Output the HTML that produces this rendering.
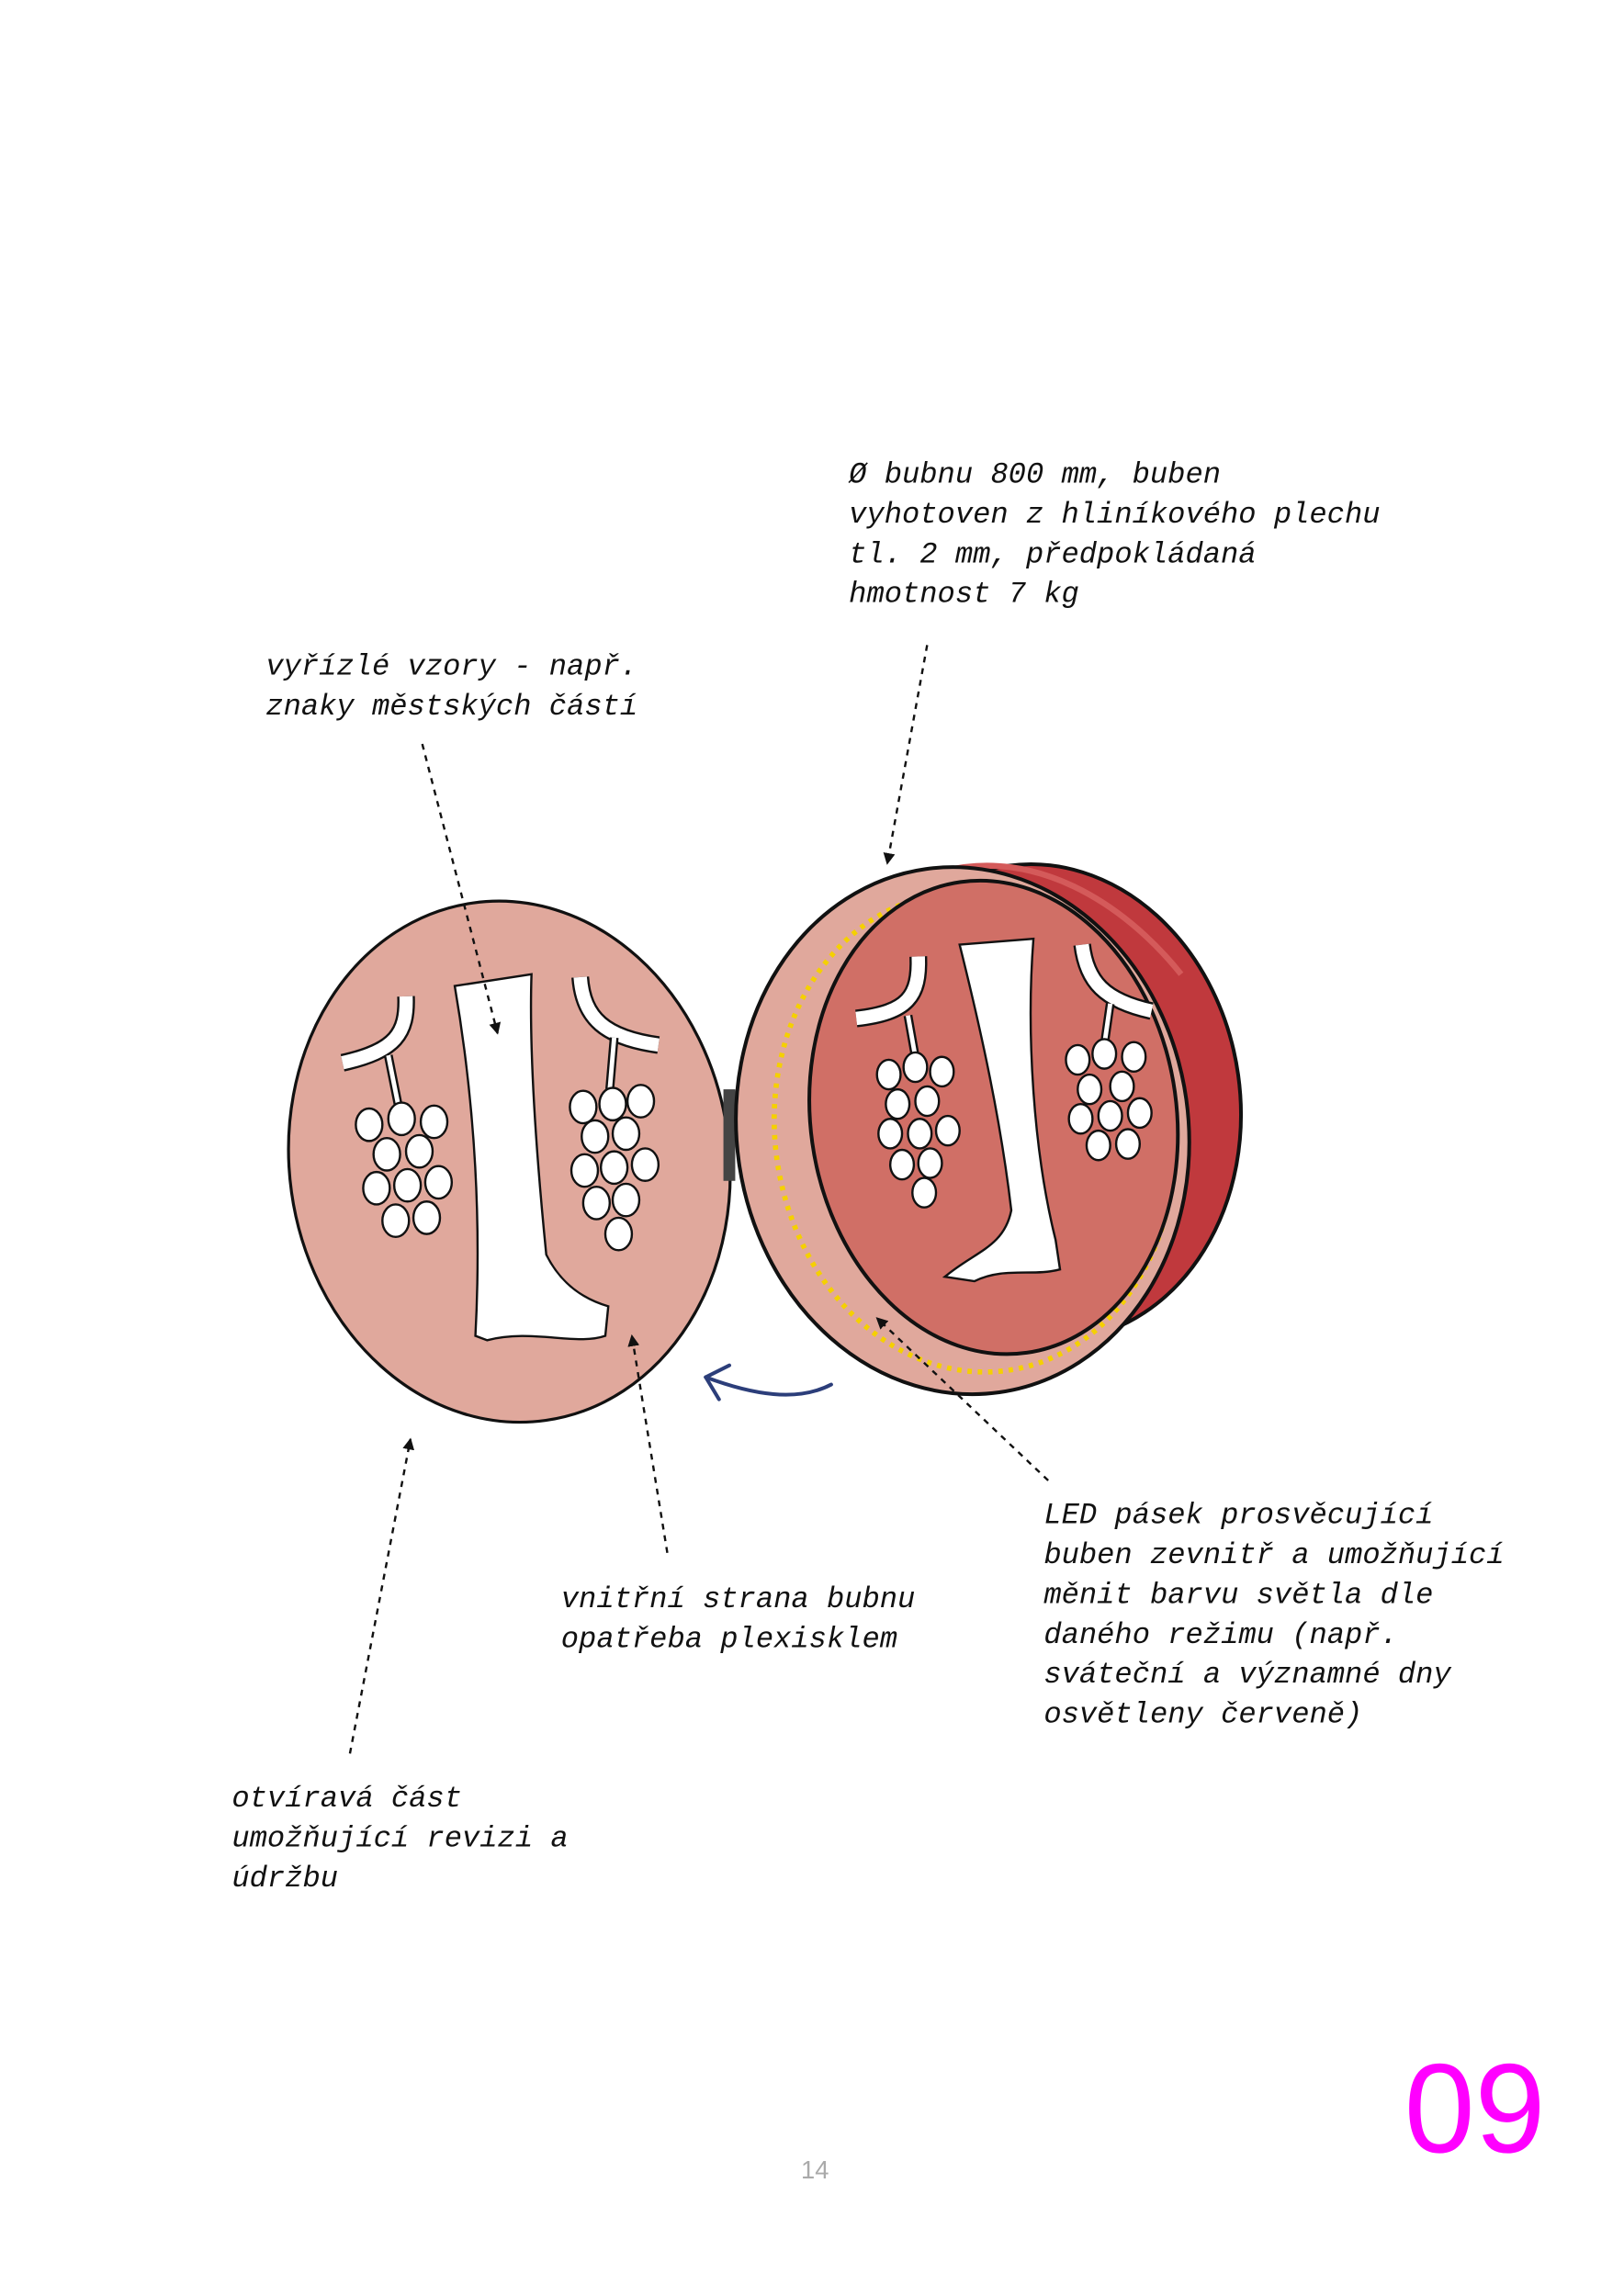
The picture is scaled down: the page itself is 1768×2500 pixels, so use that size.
<!DOCTYPE html>
<html><head><meta charset="utf-8"><style>
html,body{margin:0;padding:0;background:#fff}
svg{display:block}
.t{font-family:"Liberation Mono",monospace;font-style:italic;font-size:20px;fill:#111}
</style></head><body>
<svg width="1768" height="2500" viewBox="0 0 1100 1555.5" xmlns="http://www.w3.org/2000/svg">
<defs>
<marker id="ah" markerWidth="8" markerHeight="8" refX="7" refY="4" orient="auto" markerUnits="userSpaceOnUse"><path d="M0,0 L8,4 L0,8 Z" fill="#111"/></marker>
</defs>
<ellipse cx="345" cy="787" rx="149" ry="177" transform="rotate(-8 345 787)" fill="#e0a89c" stroke="#111" stroke-width="2"/>
<path d="M308,668 L360,660 C358,720 365,800 370,850 C380,870 395,880 412,885 L410,905 C390,912 360,900 330,908 L322,905 C326,830 322,750 308,668 Z" fill="#fff" stroke="#111" stroke-width="1.5"/>
<g fill="none" stroke-linecap="butt">
<path d="M275,675 C276,700 268,712 232,720" stroke="#111" stroke-width="12"/>
<path d="M275,675 C276,700 268,712 232,720" stroke="#fff" stroke-width="9"/>
<path d="M263,715 L270,750" stroke="#111" stroke-width="6"/><path d="M263,715 L270,750" stroke="#fff" stroke-width="3"/>
<path d="M393,662 C395,690 410,703 446,708" stroke="#111" stroke-width="12"/>
<path d="M393,662 C395,690 410,703 446,708" stroke="#fff" stroke-width="9"/>
<path d="M416,703 L413,738" stroke="#111" stroke-width="6"/><path d="M416,703 L413,738" stroke="#fff" stroke-width="3"/>
</g>
<g fill="#fff" stroke="#111" stroke-width="1.5">
<ellipse cx="250" cy="762" rx="9" ry="11"/><ellipse cx="272" cy="758" rx="9" ry="11"/><ellipse cx="294" cy="760" rx="9" ry="11"/>
<ellipse cx="262" cy="782" rx="9" ry="11"/><ellipse cx="284" cy="780" rx="9" ry="11"/>
<ellipse cx="255" cy="805" rx="9" ry="11"/><ellipse cx="276" cy="803" rx="9" ry="11"/><ellipse cx="297" cy="801" rx="9" ry="11"/>
<ellipse cx="268" cy="827" rx="9" ry="11"/><ellipse cx="289" cy="825" rx="9" ry="11"/>
<ellipse cx="395" cy="750" rx="9" ry="11"/><ellipse cx="415" cy="748" rx="9" ry="11"/><ellipse cx="434" cy="746" rx="9" ry="11"/>
<ellipse cx="403" cy="770" rx="9" ry="11"/><ellipse cx="424" cy="768" rx="9" ry="11"/>
<ellipse cx="396" cy="793" rx="9" ry="11"/><ellipse cx="416" cy="791" rx="9" ry="11"/><ellipse cx="437" cy="789" rx="9" ry="11"/>
<ellipse cx="404" cy="815" rx="9" ry="11"/><ellipse cx="424" cy="813" rx="9" ry="11"/><ellipse cx="419" cy="836" rx="9" ry="11"/>
</g>
<rect x="490" y="738" width="8" height="62" fill="#444"/>
<ellipse cx="705" cy="747" rx="135" ry="162" transform="rotate(-8 705 747)" fill="#c0393d" stroke="#111" stroke-width="2.5"/>
<path d="M640,590 C700,575 760,610 800,660" fill="none" stroke="#d45a5a" stroke-width="4"/>
<ellipse cx="652" cy="766" rx="153" ry="179" transform="rotate(-8 652 766)" fill="#e0a89c" stroke="#111" stroke-width="2.5"/>
<ellipse cx="660" cy="767" rx="135" ry="163" transform="rotate(-8 660 767)" fill="none" stroke="#f5d000" stroke-width="3.5" stroke-dasharray="3 4"/>
<ellipse cx="673" cy="757" rx="124" ry="161" transform="rotate(-8 673 757)" fill="#d06f66" stroke="#111" stroke-width="2.5"/>
<path d="M650,640 L700,636 C695,700 700,780 715,840 L718,860 C700,865 680,858 660,868 L640,865 C660,848 680,845 685,820 C678,760 665,700 650,640 Z" fill="#fff" stroke="#111" stroke-width="1.5"/>
<g fill="none">
<path d="M622,648 C623,675 615,686 580,690" stroke="#111" stroke-width="12"/>
<path d="M622,648 C623,675 615,686 580,690" stroke="#fff" stroke-width="9"/>
<path d="M615,688 L620,716" stroke="#111" stroke-width="6"/><path d="M615,688 L620,716" stroke="#fff" stroke-width="3"/>
<path d="M733,640 C736,665 748,678 780,685" stroke="#111" stroke-width="12"/>
<path d="M733,640 C736,665 748,678 780,685" stroke="#fff" stroke-width="9"/>
<path d="M752,680 L748,708" stroke="#111" stroke-width="6"/><path d="M752,680 L748,708" stroke="#fff" stroke-width="3"/>
</g>
<g fill="#fff" stroke="#111" stroke-width="1.5">
<ellipse cx="602" cy="728" rx="8" ry="10"/><ellipse cx="620" cy="723" rx="8" ry="10"/><ellipse cx="638" cy="726" rx="8" ry="10"/>
<ellipse cx="608" cy="748" rx="8" ry="10"/><ellipse cx="628" cy="746" rx="8" ry="10"/>
<ellipse cx="603" cy="768" rx="8" ry="10"/><ellipse cx="623" cy="768" rx="8" ry="10"/><ellipse cx="642" cy="766" rx="8" ry="10"/>
<ellipse cx="611" cy="789" rx="8" ry="10"/><ellipse cx="630" cy="788" rx="8" ry="10"/><ellipse cx="626" cy="808" rx="8" ry="10"/>
<ellipse cx="730" cy="718" rx="8" ry="10"/><ellipse cx="748" cy="714" rx="8" ry="10"/><ellipse cx="768" cy="716" rx="8" ry="10"/>
<ellipse cx="738" cy="738" rx="8" ry="10"/><ellipse cx="760" cy="736" rx="8" ry="10"/>
<ellipse cx="732" cy="758" rx="8" ry="10"/><ellipse cx="752" cy="756" rx="8" ry="10"/><ellipse cx="772" cy="754" rx="8" ry="10"/>
<ellipse cx="744" cy="776" rx="8" ry="10"/><ellipse cx="764" cy="775" rx="8" ry="10"/>
</g>
<g fill="none" stroke="#2c3e7a" stroke-width="2.5" stroke-linecap="round">
<path d="M563,938 C540,950 510,945 478,933"/>
<path d="M478,933 L494,925 M478,933 L487,948"/>
</g>
<g stroke="#111" stroke-width="1.5" stroke-dasharray="4 4" fill="none" marker-end="url(#ah)">
<path d="M628,437 L601,585"/>
<path d="M286,504 L337,700"/>
<path d="M452,1052 L428,905"/>
<path d="M237,1188 L278,975"/>
<path d="M710,1003 L594,893"/>
</g>
<text class="t"><tspan x="575" y="327">Ø bubnu 800 mm, buben</tspan><tspan x="575" y="354">vyhotoven z hliníkového plechu</tspan><tspan x="575" y="381">tl. 2 mm, předpokládaná</tspan><tspan x="575" y="408">hmotnost 7 kg</tspan></text>
<text class="t"><tspan x="180" y="457">vyřízlé vzory - např.</tspan><tspan x="180" y="484">znaky městských částí</tspan></text>
<text class="t"><tspan x="380" y="1089">vnitřní strana bubnu</tspan><tspan x="380" y="1116">opatřeba plexisklem</tspan></text>
<text class="t"><tspan x="707" y="1032">LED pásek prosvěcující</tspan><tspan x="707" y="1059">buben zevnitř a umožňující</tspan><tspan x="707" y="1086">měnit barvu světla dle</tspan><tspan x="707" y="1113">daného režimu (např.</tspan><tspan x="707" y="1140">sváteční a významné dny</tspan><tspan x="707" y="1167">osvětleny červeně)</tspan></text>
<text class="t"><tspan x="157" y="1224">otvíravá část</tspan><tspan x="157" y="1251">umožňující revizi a</tspan><tspan x="157" y="1278">údržbu</tspan></text>
<text x="552" y="1476" text-anchor="middle" font-family="Liberation Sans,sans-serif" font-size="17" fill="#aaa">14</text>
<text x="1005" y="1468" text-anchor="middle" font-family="Liberation Sans,sans-serif" font-size="86" fill="#ff00ff" transform="translate(-6,-10)">09</text>
</svg>
</body></html>
